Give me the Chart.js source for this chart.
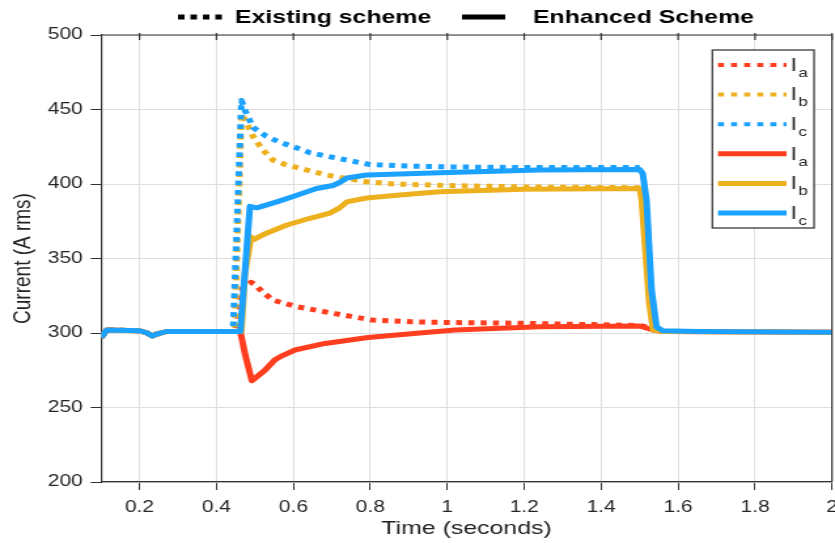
<!DOCTYPE html>
<html>
<head>
<meta charset="utf-8">
<script src="https://cdn.jsdelivr.net/npm/chart.js@4/dist/chart.umd.min.js"></script>
<style>
  html, body { margin: 0; padding: 0; background: #fff; overflow: hidden; }
  /* the plot is laid out on a narrower canvas and widened horizontally */
  #frame { width: 638px; height: 543px; transform: scaleX(1.308777); transform-origin: 0 0; }
</style>
</head>
<body>
<div id="frame"><canvas id="chart" width="638" height="543"></canvas></div>
<script>
// Axis ticks
const timeTicks = [0.2, 0.4, 0.6, 0.8, 1.0, 1.2, 1.4, 1.6, 1.8, 2.0];
const currentTicks = [200, 250, 300, 350, 400, 450, 500];

// Pre-fault steady state shared by all phases
const tPreFault = [0.1, 0.115, 0.2, 0.22, 0.233, 0.245, 0.27];
const iPreFault = [297, 302, 301.5, 300, 298, 299.3, 301];

// Existing scheme (dotted), from the end of the pre-fault window
const tIaExisting = [0.45, 0.462, 0.468, 0.49, 0.5, 0.52, 0.547, 0.612, 0.708, 0.804, 0.908, 1.02, 1.2, 1.4, 1.5, 1.527];
const iaExisting  = [301, 318, 330, 334, 332.5, 327.5, 322, 317.5, 313, 308.7, 307.5, 307, 306.5, 305.5, 305, 303.5];

const tIbExisting = [0.447, 0.465, 0.48, 0.495, 0.52, 0.547, 0.58, 0.617, 0.688, 0.73, 0.79, 0.86, 1.0, 1.2, 1.5];
const ibExisting  = [301, 447, 440, 432, 423, 416, 413, 410.5, 406, 404, 401.5, 400, 399, 398, 397.5];

const tIcExisting = [0.443, 0.465, 0.475, 0.495, 0.53, 0.565, 0.6, 0.643, 0.7, 0.72, 0.78, 0.8, 0.9, 1.0, 1.2, 1.5];
const icExisting  = [301, 456, 449, 438, 432, 428, 425, 421, 418, 417, 414, 413, 412, 411.5, 411, 411];

// Enhanced scheme (solid), from the end of the pre-fault window
const tIaEnhanced = [0.462, 0.475, 0.492, 0.526, 0.552, 0.573, 0.604, 0.682, 0.794, 0.898, 1.02, 1.24, 1.5, 1.535, 1.56, 2.0];
const iaEnhanced  = [301, 285, 268, 275, 282, 285, 288.6, 293, 297, 299.3, 302, 304.2, 304.7, 302, 301, 300.5];

const tIbEnhanced = [0.465, 0.474, 0.49, 0.495, 0.53, 0.583, 0.643, 0.695, 0.72, 0.739, 0.79, 0.877, 0.98, 1.2, 1.5, 1.505, 1.525, 1.535, 1.56, 2.0];
const ibEnhanced  = [301, 340, 364.5, 362.5, 367, 372.5, 377, 380.5, 384, 388, 390.6, 392.6, 394.8, 396.5, 397, 390, 320, 302, 301, 300.5];

const tIcEnhanced = [0.462, 0.487, 0.505, 0.557, 0.609, 0.66, 0.703, 0.72, 0.739, 0.79, 0.877, 0.98, 1.24, 1.5, 1.508, 1.518, 1.531, 1.544, 1.56, 1.65, 2.0];
const icEnhanced  = [301, 385, 384, 388, 392.5, 397, 399, 401, 404, 406, 406.7, 407.5, 409.4, 409.7, 407, 389, 329, 304, 301.5, 301, 300.5];

const phaseColors = { a: '#ff3d1f', b: '#edb120', c: '#1ba1ff' };
const FONT = '"Liberation Sans", Arial, sans-serif';

const toPoints = (ts, vs) =>
  tPreFault.concat(ts).map((t, i) => ({ x: t, y: iPreFault.concat(vs)[i] }));

function series(phase, ts, vs, dotted, order) {
  return {
    phase,
    data: toPoints(ts, vs),
    borderColor: phaseColors[phase],
    borderWidth: 5,
    borderDash: dotted ? [4.6, 4.8] : [],
    borderCapStyle: 'butt',
    borderJoinStyle: 'round',
    pointRadius: 0,
    tension: 0,
    fill: false,
    order
  };
}

const datasets = [
  series('a', tIaExisting, iaExisting, true, 5),
  series('b', tIbExisting, ibExisting, true, 4),
  series('c', tIcExisting, icExisting, true, 3),
  series('a', tIaEnhanced, iaEnhanced, false, 2),
  series('b', tIbEnhanced, ibEnhanced, false, 1),
  series('c', tIcEnhanced, icEnhanced, false, 0)
];

// Box edges, top scheme key and the phase legend
const decorations = {
  id: 'decorations',
  afterDraw(chart) {
    const { ctx, chartArea: a, scales: { x } } = chart;
    ctx.save();

    ctx.strokeStyle = '#333';
    ctx.lineWidth = 1.2;
    ctx.beginPath();
    ctx.moveTo(a.left, a.top);
    ctx.lineTo(a.right, a.top);
    ctx.lineTo(a.right, a.bottom);
    ctx.stroke();
    timeTicks.forEach(v => {
      const px = x.getPixelForValue(v);
      ctx.beginPath();
      ctx.moveTo(px, a.top - 2);
      ctx.lineTo(px, a.top + 5);
      ctx.stroke();
    });

    // scheme key above the plot
    const ky = 17;
    ctx.strokeStyle = '#000';
    ctx.lineWidth = 5;
    ctx.lineCap = 'butt';
    ctx.setLineDash([5, 4.5]);
    ctx.beginPath(); ctx.moveTo(136, ky); ctx.lineTo(169.6, ky); ctx.stroke();
    ctx.setLineDash([]);
    ctx.beginPath(); ctx.moveTo(353, ky); ctx.lineTo(386, ky); ctx.stroke();
    ctx.fillStyle = '#000';
    ctx.font = 'bold 19px ' + FONT;
    ctx.textBaseline = 'middle';
    ctx.textAlign = 'left';
    ctx.fillText('Existing scheme', 179.6, ky + 1);
    ctx.fillText('Enhanced Scheme', 407.2, ky + 1);

    // phase legend box
    const bx0 = 544.3, bx1 = 622, by0 = 50, by1 = 228;
    ctx.fillStyle = '#fff';
    ctx.fillRect(bx0, by0, bx1 - bx0, by1 - by0);
    ctx.strokeStyle = '#3a3a3a';
    ctx.lineWidth = 1.3;
    ctx.strokeRect(bx0, by0, bx1 - bx0, by1 - by0);

    ctx.textBaseline = 'alphabetic';
    chart.data.datasets.forEach((ds, i) => {
      const ry = 65 + 29.6 * i;
      const dotted = ds.borderDash.length > 0;
      ctx.strokeStyle = ds.borderColor;
      ctx.lineWidth = dotted ? 4 : 5;
      ctx.setLineDash(dotted ? [4.6, 5.4] : []);
      ctx.beginPath(); ctx.moveTo(548.6, ry); ctx.lineTo(601, ry); ctx.stroke();
      ctx.setLineDash([]);
      ctx.fillStyle = '#262626';
      ctx.font = '18px ' + FONT;
      ctx.fillText('I', 604, ry + 5.7);
      ctx.font = '13px ' + FONT;
      ctx.fillText(ds.phase, 610, ry + 11.7);
    });

    ctx.restore();
  }
};

new Chart(document.getElementById('chart'), {
  type: 'line',
  data: { datasets },
  plugins: [decorations],
  options: {
    responsive: false,
    animation: false,
    devicePixelRatio: 1,
    layout: { padding: { top: 35, right: 2.3, left: 0, bottom: 0 } },
    plugins: { legend: { display: false }, tooltip: { enabled: false } },
    scales: {
      x: {
        type: 'linear',
        min: 0.1,
        max: 2,
        afterBuildTicks: s => { s.ticks = timeTicks.map(v => ({ value: v })); },
        afterFit: s => { s.height = 61; s.paddingLeft = 0; s.paddingRight = 0; },
        ticks: {
          autoSkip: false, maxRotation: 0, padding: 8, color: '#262626',
          font: { family: FONT, size: 16 },
          callback: v => String(+(+v).toFixed(1))
        },
        grid: { color: '#dedede', lineWidth: 1, tickLength: 8, tickColor: '#333' },
        border: { color: '#333', width: 1.2 },
        title: {
          display: true, text: 'Time (seconds)', color: '#222',
          font: { family: FONT, size: 19 }, padding: { top: 0, bottom: 3 }
        }
      },
      y: {
        type: 'linear',
        min: 200,
        max: 500,
        afterBuildTicks: s => { s.ticks = currentTicks.map(v => ({ value: v })); },
        afterFit: s => { s.width = 77.2; s.paddingTop = 0; s.paddingBottom = 0; },
        ticks: { padding: 6, color: '#262626', font: { family: FONT, size: 16 } },
        grid: { color: '#dedede', lineWidth: 1, tickLength: 8, tickColor: '#333' },
        border: { color: '#333', width: 1.2 },
        title: {
          display: true, text: 'Current (A rms)', color: '#222',
          font: { family: FONT, size: 19 }, padding: { top: 6.6, bottom: 0 }
        }
      }
    }
  }
});
</script>
</body>
</html>
